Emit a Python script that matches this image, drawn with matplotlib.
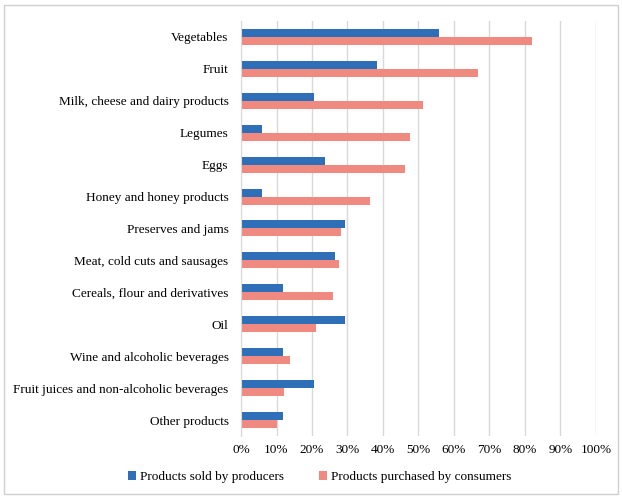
import numpy as np
import matplotlib.pyplot as plt
from matplotlib.patches import Rectangle

plt.rcParams['font.family'] = ['Liberation Serif', 'DejaVu Serif']

categories = ['Vegetables', 'Fruit', 'Milk, cheese and dairy products', 'Legumes', 'Eggs',
              'Honey and honey products', 'Preserves and jams', 'Meat, cold cuts and sausages',
              'Cereals, flour and derivatives', 'Oil', 'Wine and alcoholic beverages',
              'Fruit juices and non-alcoholic beverages', 'Other products']
sold = [55.8, 38.3, 20.6, 5.8, 23.6, 5.8, 29.3, 26.6, 11.8, 29.3, 11.8, 20.6, 11.8]
purchased = [81.9, 66.9, 51.4, 47.6, 46.3, 36.3, 28.1, 27.6, 25.8, 21.0, 13.8, 12.0, 10.0]
xticks = np.arange(0, 101, 10)

blue = '#2e6fb7'
red = '#f08a80'

fig = plt.figure(figsize=(6.22, 4.98), dpi=100)
ax = fig.add_axes([0.3875, 0.1245, 0.5705, 0.8335])

y = np.arange(len(categories))
h = 0.25
ax.barh(y - h / 2, sold, height=h, color=blue, label='Products sold by producers')
ax.barh(y + h / 2, purchased, height=h, color=red, label='Products purchased by consumers')

ax.set_ylim(len(categories) - 0.5, -0.5)
ax.set_yticks(y)
ax.set_yticklabels(categories, fontsize=9.5)
ax.set_xlim(0, 100)
ax.set_xticks(xticks)
ax.set_xticklabels([f'{t}%' for t in xticks], fontsize=9.5)
ax.tick_params(length=0, pad=9)
ax.tick_params(axis='x', pad=6)
ax.grid(axis='x', color='#d9d9d9', lw=1)
ax.set_axisbelow(True)
for s in ['top', 'right', 'bottom']:
    ax.spines[s].set_visible(False)
ax.spines['left'].set_color('#d9d9d9')

fig.legend(loc='center', bbox_to_anchor=(0.514, 0.042), ncol=2, frameon=False,
           fontsize=9.5, handlelength=0.6, handleheight=0.6, handletextpad=0.35,
           columnspacing=2.6)

fig.patches.append(Rectangle((4 / 622, 4 / 498), 614 / 622, 489 / 498, transform=fig.transFigure,
                             fill=False, edgecolor='#d0d0d0', lw=1))

fig.savefig('out.png', dpi=100)
